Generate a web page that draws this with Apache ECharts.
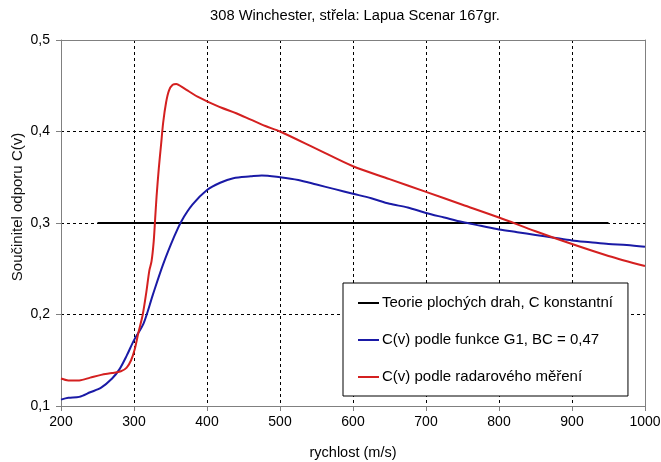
<!DOCTYPE html>
<html>
<head>
<meta charset="utf-8">
<script src="https://cdn.jsdelivr.net/npm/echarts@6/dist/echarts.min.js"></script>
<style>
  html, body { margin: 0; padding: 0; background: #fff; }
  #chart { width: 661px; height: 462px; }
</style>
</head>
<body>
<div id="chart"></div>
<script>
// rychlost (m/s) a součinitel odporu
const redSpeed = [200, 210, 225, 240, 255, 270, 282, 290, 296, 301, 306, 312, 317, 321, 324, 327, 329, 331, 334, 337, 340, 344, 348, 353, 358, 365, 375, 387, 400, 420, 440, 460, 480, 500, 550, 600, 650, 700, 750, 800, 850, 900, 950, 1000]
const redCd = [0.130, 0.128, 0.128, 0.131, 0.134, 0.136, 0.138, 0.142, 0.150, 0.162, 0.180, 0.200, 0.225, 0.248, 0.258, 0.280, 0.305, 0.330, 0.360, 0.385, 0.410, 0.432, 0.445, 0.451, 0.452, 0.449, 0.444, 0.438, 0.433, 0.426, 0.420, 0.413, 0.406, 0.400, 0.381, 0.362, 0.348, 0.334, 0.320, 0.306, 0.291, 0.277, 0.264, 0.253]

const blueSpeed = [200, 210, 225, 240, 255, 270, 280, 290, 300, 313, 326, 340, 355, 365, 380, 400, 418, 436, 460, 475, 500, 525, 550, 575, 600, 625, 650, 675, 700, 725, 750, 775, 800, 825, 850, 875, 900, 925, 950, 975, 1000]
const blueCd = [0.107, 0.109, 0.110, 0.115, 0.120, 0.130, 0.140, 0.155, 0.172, 0.190, 0.222, 0.255, 0.285, 0.302, 0.320, 0.336, 0.344, 0.349, 0.351, 0.352, 0.350, 0.347, 0.342, 0.337, 0.332, 0.327, 0.321, 0.317, 0.311, 0.306, 0.301, 0.297, 0.293, 0.290, 0.287, 0.284, 0.281, 0.279, 0.277, 0.276, 0.274]

const blackSpeed = [250, 950]
const blackCd = [0.3, 0.3]

const seriesNames = [
  'Teorie plochých drah, C konstantní',
  'C(v) podle funkce G1, BC = 0,47',
  'C(v) podle radarového měření',
]

const pairs = (xs, ys) => xs.map((x, i) => [x, ys[i]])

const font = 'Arial, "Liberation Sans", sans-serif'
const chart = echarts.init(document.getElementById('chart'))

chart.setOption({
  animation: false,
  backgroundColor: '#fff',
  textStyle: { fontFamily: font, color: '#000' },
  grid: { left: 61, right: 16, top: 40, bottom: 56, outerBoundsMode: 'none' },
  graphic: [
    {
      type: 'text', x: 355, y: 16,
      style: { text: '308 Winchester, střela: Lapua Scenar 167gr.', font: '14.7px ' + font, fill: '#000', textAlign: 'center', textVerticalAlign: 'middle' },
    },
    {
      type: 'text', x: 18, y: 207, rotation: Math.PI / 2,
      style: { text: 'Součinitel odporu C(v)', font: '15px ' + font, fill: '#111', textAlign: 'center', textVerticalAlign: 'middle' },
    },
  ],
  legend: {
    orient: 'vertical',
    left: 343,
    top: 283,
    padding: [12, 15, 11, 15],
    itemGap: 21,
    itemWidth: 21,
    itemHeight: 2,
    icon: 'rect',
    backgroundColor: '#fff',
    borderColor: '#000',
    borderWidth: 1,
    textStyle: { fontSize: 15, fontFamily: font, color: '#000', lineHeight: 16, padding: [0, 0, 0, -2] },
    data: seriesNames,
  },
  xAxis: [
    {
      type: 'value',
      min: 200,
      max: 1000,
      interval: 100,
      name: 'rychlost (m/s)',
      nameLocation: 'middle',
      nameGap: 39,
      nameTextStyle: { fontSize: 14.5, color: '#000' },
      axisLine: { lineStyle: { color: '#808080', width: 1 } },
      axisTick: { inside: false, length: 5, lineStyle: { color: '#808080' } },
      axisLabel: { fontSize: 14, color: '#000', margin: 9, formatter: v => String(v) },
      splitLine: { show: true, lineStyle: { color: '#000', type: [3, 3], width: 1 } },
    },
    {
      type: 'value', position: 'top', min: 200, max: 1000, z: 5,
      axisLine: { show: true, onZero: false, lineStyle: { color: '#808080', width: 1 } },
      axisTick: { show: false }, axisLabel: { show: false }, splitLine: { show: false },
    },
  ],
  yAxis: [
    {
      type: 'value',
      min: 0.1,
      max: 0.5,
      interval: 0.1,
      axisLine: { show: true, lineStyle: { color: '#808080', width: 1 } },
      axisTick: { show: true, length: 5, lineStyle: { color: '#808080' } },
      axisLabel: { fontSize: 14, color: '#000', margin: 11, formatter: v => v.toFixed(1).replace('.', ',') },
      splitLine: { show: true, lineStyle: { color: '#000', type: [3, 3], width: 1 } },
    },
    {
      type: 'value', position: 'right', min: 0.1, max: 0.5, z: 5,
      axisLine: { show: true, onZero: false, lineStyle: { color: '#808080', width: 1 } },
      axisTick: { show: false }, axisLabel: { show: false }, splitLine: { show: false },
    },
  ],
  series: [
    {
      name: seriesNames[0],
      type: 'line',
      data: pairs(blackSpeed, blackCd),
      symbol: 'none',
      color: '#000',
      lineStyle: { width: 2, color: '#000' },
    },
    {
      name: seriesNames[1],
      type: 'line',
      data: pairs(blueSpeed, blueCd),
      symbol: 'none',
      smooth: 0.3,
      color: '#1a1aa6',
      lineStyle: { width: 2, color: '#1a1aa6' },
    },
    {
      name: seriesNames[2],
      type: 'line',
      data: pairs(redSpeed, redCd),
      symbol: 'none',
      smooth: 0.3,
      color: '#d42020',
      lineStyle: { width: 2, color: '#d42020' },
    },
  ],
})
</script>
</body>
</html>
